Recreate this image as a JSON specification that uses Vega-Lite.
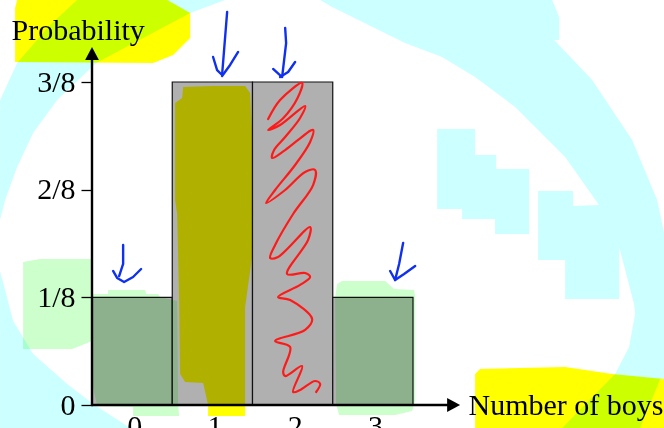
{
"$schema":"https://vega.github.io/schema/vega-lite/v6.json",
"width":321,"height":323,
"autosize":{"type":"none"},
"padding":{"left":92,"top":82,"right":251,"bottom":23},
"background":"white",
"config":{"view":{"stroke":null},"font":"Liberation Serif"},
"datasets":{
"bars":[{"boys":0,"lo":-0.5,"hi":0.5,"p":1,"base":0},{"boys":1,"lo":0.5,"hi":1.5,"p":3,"base":0},{"boys":2,"lo":1.5,"hi":2.5,"p":3,"base":0},{"boys":3,"lo":2.5,"hi":3.5,"p":1,"base":0}],
"fills":[
{"s":"c1","k":"cyan","x":-1.645,"y":2.833},{"s":"c1","k":"cyan","x":-1.433,"y":3.176},{"s":"c1","k":"cyan","x":-1.022,"y":3.529},{"s":"c1","k":"cyan","x":-0.685,"y":3.762},{"s":"c1","k":"cyan","x":1.159,"y":3.762},{"s":"c1","k":"cyan","x":0.723,"y":3.641},{"s":"c1","k":"cyan","x":-0.449,"y":3.176},{"s":"c1","k":"cyan","x":-0.935,"y":2.833},{"s":"c1","k":"cyan","x":-1.234,"y":2.526},{"s":"c1","k":"cyan","x":-1.433,"y":2.211},{"s":"c1","k":"cyan","x":-1.583,"y":1.904},{"s":"c1","k":"cyan","x":-1.645,"y":1.718},
{"s":"c2","k":"cyan","x":-1.645,"y":1.245},{"s":"c2","k":"cyan","x":-1.483,"y":0.78},{"s":"c2","k":"cyan","x":-1.234,"y":0.474},{"s":"c2","k":"cyan","x":-0.81,"y":0.195},{"s":"c2","k":"cyan","x":-0.486,"y":0.009},{"s":"c2","k":"cyan","x":-0.025,"y":-0.214},{"s":"c2","k":"cyan","x":-1.645,"y":-0.214},
{"s":"c3","k":"cyan","x":2.343,"y":3.762},{"s":"c3","k":"cyan","x":2.492,"y":3.697},{"s":"c3","k":"cyan","x":3.402,"y":3.362},{"s":"c3","k":"cyan","x":3.863,"y":3.232},{"s":"c3","k":"cyan","x":4.274,"y":3.046},{"s":"c3","k":"cyan","x":4.773,"y":2.768},{"s":"c3","k":"cyan","x":5.396,"y":2.303},{"s":"c3","k":"cyan","x":5.819,"y":1.858},{"s":"c3","k":"cyan","x":5.495,"y":1.848},{"s":"c3","k":"cyan","x":5.495,"y":1.988},{"s":"c3","k":"cyan","x":5.059,"y":1.988},{"s":"c3","k":"cyan","x":5.059,"y":1.347},{"s":"c3","k":"cyan","x":5.396,"y":1.347},{"s":"c3","k":"cyan","x":5.396,"y":0.985},{"s":"c3","k":"cyan","x":6.069,"y":0.985},{"s":"c3","k":"cyan","x":6.069,"y":1.467},{"s":"c3","k":"cyan","x":6.255,"y":0.938},{"s":"c3","k":"cyan","x":6.268,"y":0.845},{"s":"c3","k":"cyan","x":6.193,"y":0.539},{"s":"c3","k":"cyan","x":6.019,"y":0.288},{"s":"c3","k":"cyan","x":5.358,"y":-0.214},{"s":"c3","k":"cyan","x":6.33,"y":-0.214},{"s":"c3","k":"cyan","x":6.579,"y":0.241},{"s":"c3","k":"cyan","x":6.629,"y":0.241},{"s":"c3","k":"cyan","x":6.629,"y":1.598},{"s":"c3","k":"cyan","x":6.542,"y":1.904},{"s":"c3","k":"cyan","x":6.231,"y":2.461},{"s":"c3","k":"cyan","x":5.732,"y":3.019},{"s":"c3","k":"cyan","x":5.259,"y":3.39},{"s":"c3","k":"cyan","x":5.321,"y":3.39},{"s":"c3","k":"cyan","x":5.321,"y":3.604},{"s":"c3","k":"cyan","x":5.234,"y":3.762},
{"s":"c4","k":"cyan","x":3.801,"y":2.563},{"s":"c4","k":"cyan","x":4.274,"y":2.563},{"s":"c4","k":"cyan","x":4.274,"y":2.322},{"s":"c4","k":"cyan","x":4.536,"y":2.322},{"s":"c4","k":"cyan","x":4.536,"y":2.192},{"s":"c4","k":"cyan","x":4.947,"y":2.192},{"s":"c4","k":"cyan","x":4.947,"y":1.588},{"s":"c4","k":"cyan","x":4.523,"y":1.588},{"s":"c4","k":"cyan","x":4.523,"y":1.728},{"s":"c4","k":"cyan","x":4.112,"y":1.728},{"s":"c4","k":"cyan","x":4.112,"y":1.82},{"s":"c4","k":"cyan","x":3.801,"y":1.82},
{"s":"y1","k":"yellow","x":-1.433,"y":3.762},{"s":"y1","k":"yellow","x":-1.458,"y":3.687},{"s":"y1","k":"yellow","x":-1.458,"y":3.186},{"s":"y1","k":"yellow","x":0.262,"y":3.176},{"s":"y1","k":"yellow","x":0.511,"y":3.251},{"s":"y1","k":"yellow","x":0.723,"y":3.409},{"s":"y1","k":"yellow","x":0.723,"y":3.641},{"s":"y1","k":"yellow","x":0.436,"y":3.762},
{"s":"y2","k":"yellow","x":4.274,"y":-0.214},{"s":"y2","k":"yellow","x":4.274,"y":0.288},{"s":"y2","k":"yellow","x":4.336,"y":0.334},{"s":"y2","k":"yellow","x":5.396,"y":0.353},{"s":"y2","k":"yellow","x":5.981,"y":0.288},{"s":"y2","k":"yellow","x":6.629,"y":0.241},{"s":"y2","k":"yellow","x":6.629,"y":-0.214},
{"s":"y3","k":"yellow","x":0.636,"y":2.954},{"s":"y3","k":"yellow","x":0.997,"y":2.963},{"s":"y3","k":"yellow","x":1.408,"y":2.963},{"s":"y3","k":"yellow","x":1.47,"y":2.898},{"s":"y3","k":"yellow","x":1.495,"y":2.526},{"s":"y3","k":"yellow","x":1.508,"y":1.774},{"s":"y3","k":"yellow","x":1.495,"y":1.375},{"s":"y3","k":"yellow","x":1.408,"y":0.91},{"s":"y3","k":"yellow","x":1.408,"y":-0.102},{"s":"y3","k":"yellow","x":0.947,"y":-0.102},{"s":"y3","k":"yellow","x":0.947,"y":0},{"s":"y3","k":"yellow","x":0.885,"y":0.204},{"s":"y3","k":"yellow","x":0.66,"y":0.214},{"s":"y3","k":"yellow","x":0.598,"y":0.288},{"s":"y3","k":"yellow","x":0.586,"y":0.966},{"s":"y3","k":"yellow","x":0.561,"y":1.774},{"s":"y3","k":"yellow","x":0.536,"y":1.904},{"s":"y3","k":"yellow","x":0.536,"y":2.805},{"s":"y3","k":"yellow","x":0.623,"y":2.851},
{"s":"g1","k":"green","x":-1.358,"y":1.328},{"s":"g1","k":"green","x":-1.146,"y":1.356},{"s":"g1","k":"green","x":-0.511,"y":1.356},{"s":"g1","k":"green","x":-0.511,"y":1.031},{"s":"g1","k":"green","x":-0.299,"y":1.031},{"s":"g1","k":"green","x":-0.299,"y":1.068},{"s":"g1","k":"green","x":0.162,"y":1.068},{"s":"g1","k":"green","x":0.174,"y":1.031},{"s":"g1","k":"green","x":0.324,"y":1.031},{"s":"g1","k":"green","x":0.349,"y":1.003},{"s":"g1","k":"green","x":0.561,"y":0.966},{"s":"g1","k":"green","x":0.573,"y":0.009},{"s":"g1","k":"green","x":0.586,"y":-0.102},{"s":"g1","k":"green","x":0.012,"y":-0.102},{"s":"g1","k":"green","x":0.012,"y":-0.019},{"s":"g1","k":"green","x":-0.436,"y":-0.009},{"s":"g1","k":"green","x":-0.486,"y":0.167},{"s":"g1","k":"green","x":-0.498,"y":0.594},{"s":"g1","k":"green","x":-0.748,"y":0.52},{"s":"g1","k":"green","x":-1.358,"y":0.52},
{"s":"g2","k":"green","x":2.555,"y":1.124},{"s":"g2","k":"green","x":2.617,"y":1.152},{"s":"g2","k":"green","x":3.153,"y":1.152},{"s":"g2","k":"green","x":3.265,"y":1.077},{"s":"g2","k":"green","x":3.514,"y":1.068},{"s":"g2","k":"green","x":3.527,"y":1.003},{"s":"g2","k":"green","x":3.527,"y":0.037},{"s":"g2","k":"green","x":3.489,"y":-0.056},{"s":"g2","k":"green","x":3.277,"y":-0.093},{"s":"g2","k":"green","x":2.579,"y":-0.093},{"s":"g2","k":"green","x":2.542,"y":0.009},{"s":"g2","k":"green","x":2.53,"y":1.003},
{"s":"a1","k":"black","x":3.925,"y":-0.065},{"s":"a1","k":"black","x":4.087,"y":0},{"s":"a1","k":"black","x":3.925,"y":0.065},
{"s":"a2","k":"black","x":-0.586,"y":3.204},{"s":"a2","k":"black","x":-0.5,"y":3.325},{"s":"a2","k":"black","x":-0.414,"y":3.204}
],
"scribble":[
{"s":"r1","x":1.695,"y":2.656},{"s":"r1","x":1.844,"y":2.833},{"s":"r1","x":2.118,"y":2.991},{"s":"r1","x":2.06,"y":2.85},{"s":"r1","x":1.882,"y":2.664},{"s":"r1","x":1.695,"y":2.554},{"s":"r1","x":1.844,"y":2.601},{"s":"r1","x":2.156,"y":2.777},{"s":"r1","x":2.093,"y":2.666},{"s":"r1","x":1.907,"y":2.489},{"s":"r1","x":1.769,"y":2.368},{"s":"r1","x":1.745,"y":2.294},{"s":"r1","x":1.907,"y":2.368},{"s":"r1","x":2.255,"y":2.554},{"s":"r1","x":2.218,"y":2.443},{"s":"r1","x":2.031,"y":2.229},{"s":"r1","x":1.782,"y":1.997},{"s":"r1","x":1.67,"y":1.876},{"s":"r1","x":1.907,"y":1.997},{"s":"r1","x":2.156,"y":2.164},{"s":"r1","x":2.28,"y":2.183},{"s":"r1","x":2.255,"y":2.043},{"s":"r1","x":2.006,"y":1.774},{"s":"r1","x":1.782,"y":1.486},{"s":"r1","x":1.72,"y":1.365},{"s":"r1","x":1.819,"y":1.375},{"s":"r1","x":2.218,"y":1.653},{"s":"r1","x":2.193,"y":1.533},{"s":"r1","x":1.931,"y":1.217},{"s":"r1","x":2.156,"y":1.226},{"s":"r1","x":2.218,"y":1.189},{"s":"r1","x":2.093,"y":1.115},{"s":"r1","x":1.819,"y":1.003},{"s":"r1","x":1.969,"y":0.975},{"s":"r1","x":2.243,"y":0.799},{"s":"r1","x":2.156,"y":0.697},{"s":"r1","x":1.782,"y":0.594},{"s":"r1","x":1.969,"y":0.539},{"s":"r1","x":1.882,"y":0.306},{"s":"r1","x":1.907,"y":0.269},{"s":"r1","x":2.118,"y":0.362},{"s":"r1","x":2.006,"y":0.121},{"s":"r1","x":2.093,"y":0.139},{"s":"r1","x":2.28,"y":0.223},{"s":"r1","x":2.343,"y":0.195},{"s":"r1","x":2.293,"y":0.121}
],
"strokes":[
{"s":"b1","k":"blue","x":1.184,"y":3.65},{"s":"b1","k":"blue","x":1.146,"y":3.297},{"s":"b1","k":"blue","x":1.121,"y":3.065},{"s":"b1","k":"blue","x":1.059,"y":3.111},{"s":"b1","k":"blue","x":1.009,"y":3.232},
{"s":"b1b","k":"blue","x":1.121,"y":3.056},{"s":"b1b","k":"blue","x":1.221,"y":3.158},{"s":"b1b","k":"blue","x":1.321,"y":3.279},
{"s":"b2","k":"blue","x":1.907,"y":3.502},{"s":"b2","k":"blue","x":1.919,"y":3.362},{"s":"b2","k":"blue","x":1.869,"y":3.046},{"s":"b2","k":"blue","x":1.757,"y":3.121},
{"s":"b2b","k":"blue","x":1.844,"y":3.046},{"s":"b2b","k":"blue","x":1.944,"y":3.093},{"s":"b2b","k":"blue","x":2.031,"y":3.186},
{"s":"b3","k":"blue","x":-0.112,"y":1.486},{"s":"b3","k":"blue","x":-0.112,"y":1.31},{"s":"b3","k":"blue","x":-0.162,"y":1.198},{"s":"b3b","k":"blue","x":-0.237,"y":1.245},{"s":"b3b","k":"blue","x":-0.187,"y":1.18},{"s":"b3b","k":"blue","x":-0.1,"y":1.142},{"s":"b3b","k":"blue","x":0.012,"y":1.189},{"s":"b3b","k":"blue","x":0.112,"y":1.263},
{"s":"b4","k":"blue","x":3.377,"y":1.505},{"s":"b4","k":"blue","x":3.327,"y":1.31},{"s":"b4","k":"blue","x":3.277,"y":1.161},{"s":"b4","k":"blue","x":3.215,"y":1.245},
{"s":"b4b","k":"blue","x":3.277,"y":1.161},{"s":"b4b","k":"blue","x":3.389,"y":1.217},{"s":"b4b","k":"blue","x":3.527,"y":1.291},
{"s":"ax1","k":"black","x":-0.5,"y":0},{"s":"ax1","k":"black","x":3.925,"y":0},
{"s":"ax2","k":"black","x":-0.5,"y":0},{"s":"ax2","k":"black","x":-0.5,"y":3.204}
]
},
"layer":[
{"data":{"name":"bars"},
 "mark":{"type":"bar","fill":"#b0b0b0","stroke":"#111111","strokeWidth":1.2},
 "encoding":{
  "x":{"field":"lo","type":"quantitative","scale":{"domain":[-0.5,3.5],"nice":false,"zero":false},
   "axis":{"values":[0,1,2,3],"format":"d","grid":false,"domain":false,"ticks":false,"labelFont":"Liberation Serif","labelFontSize":30,"labelColor":"black","labelPadding":6,"labelOffset":2,"labelFlush":false,"labelOverlap":false,
    "title":"Number of boys","titleFont":"Liberation Serif","titleFontSize":30,"titleFontWeight":"normal","titleColor":"black","titleAlign":"left","titleBaseline":"alphabetic","titleX":376,"titleY":9}},
  "x2":{"field":"hi"},
  "y":{"field":"p","type":"quantitative","scale":{"domain":[0,3],"nice":false,"zero":false},
   "axis":{"values":[0,1,2,3],"labelExpr":"datum.value==0?'0':datum.value+'/8'","grid":false,"domain":false,"tickSize":11,"tickColor":"black","tickWidth":1.3,"labelFont":"Liberation Serif","labelFontSize":30,"labelColor":"black","labelPadding":6,"labelFlush":false,"labelOverlap":false,
    "title":"Probability","titleFont":"Liberation Serif","titleFontSize":30,"titleFontWeight":"normal","titleColor":"black","titleAngle":0,"titleAlign":"left","titleBaseline":"alphabetic","titleX":-81,"titleY":-43}},
  "y2":{"field":"base"}
 }},
{"data":{"name":"fills"},
 "mark":{"type":"line","strokeWidth":0,"stroke":"transparent","blend":"multiply","clip":false},
 "encoding":{
  "x":{"field":"x","type":"quantitative"},
  "y":{"field":"y","type":"quantitative"},
  "detail":{"field":"s"},
  "order":{"value":null},
  "fill":{"field":"k","type":"nominal","legend":null,"scale":{"domain":["cyan","yellow","green","black"],"range":["#ccffff","#ffff00","#ccffcc","#000000"]}}
 }},
{"data":{"name":"scribble"},
 "mark":{"type":"line","strokeWidth":2.2,"stroke":"#ff1a1a","interpolate":"catmull-rom","strokeCap":"round","strokeJoin":"round"},
 "encoding":{
  "x":{"field":"x","type":"quantitative"},
  "y":{"field":"y","type":"quantitative"},
  "order":{"value":null}
 }},
{"data":{"name":"strokes"},
 "mark":{"type":"line","strokeWidth":2.4,"strokeCap":"round","strokeJoin":"round"},
 "encoding":{
  "x":{"field":"x","type":"quantitative"},
  "y":{"field":"y","type":"quantitative"},
  "detail":{"field":"s"},
  "order":{"value":null},
  "stroke":{"field":"k","type":"nominal","legend":null,"scale":{"domain":["blue","black"],"range":["#1030f0","#000000"]}}
 }}
]
}
